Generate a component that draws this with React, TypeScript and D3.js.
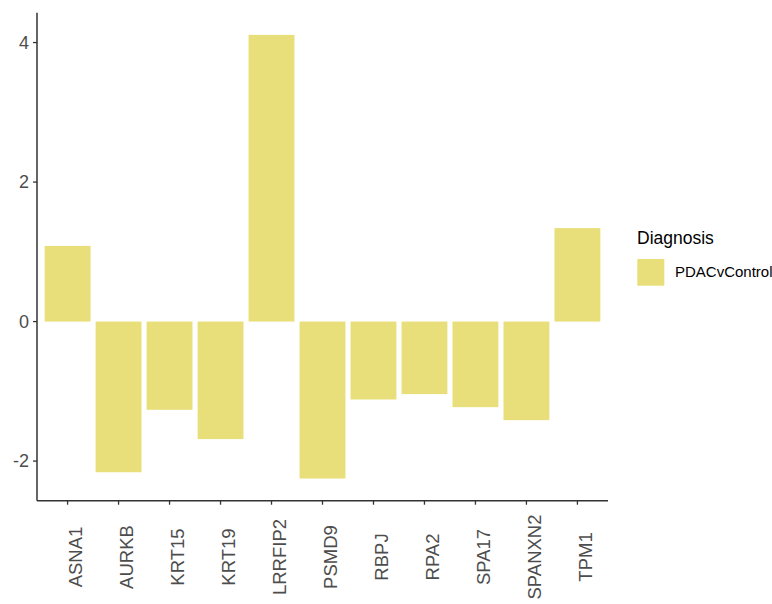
import React from "react";
import * as d3 from "d3";

// Log fold change per gene for the PDAC vs control comparison
const genes = ["ASNA1", "AURKB", "KRT15", "KRT19", "LRRFIP2", "PSMD9", "RBPJ", "RPA2", "SPA17", "SPANXN2", "TPM1"];
const values = [1.085, -2.16, -1.265, -1.685, 4.11, -2.25, -1.117, -1.04, -1.227, -1.413, 1.34];
const yTicks = [-2, 0, 2, 4];
const legendTitle = "Diagnosis";
const legendLabel = "PDACvControl";

const W = 772;
const H = 604;
const margin = { left: 37, right: 164, top: 12.7, bottom: 103.3 };
const fill = "#E9DF7A";
const axisColor = "#333333";
const textColor = "#4D4D4D";
const font = "'Liberation Sans', Arial, sans-serif";

export default function App() {
  const x0 = margin.left;
  const x1 = W - margin.right;
  const y0 = margin.top;
  const y1 = H - margin.bottom;

  // Discrete axis with ggplot-style 0.6 unit expansion on each side
  const n = genes.length;
  const unit = (x1 - x0) / (n + 0.2);
  const x = d3.scaleBand<string>()
    .domain(genes)
    .range([x0 + 0.1 * unit, x1 - 0.1 * unit])
    .paddingInner(0.1)
    .paddingOuter(0.05);

  const lo = d3.min(values)!;
  const hi = d3.max(values)!;
  const pad = (hi - lo) * 0.05;
  const y = d3.scaleLinear().domain([lo - pad, hi + pad]).range([y1, y0]);

  return (
    <svg width={W} height={H} style={{ position: "absolute", left: 0, top: 0, background: "#fff" }}>
      {genes.map((g, i) => {
        const v = values[i];
        const top = y(Math.max(0, v));
        const bot = y(Math.min(0, v));
        return <rect key={g} x={x(g)} y={top} width={x.bandwidth()} height={bot - top} fill={fill} />;
      })}

      {/* axes */}
      <line x1={x0} x2={x0} y1={y0} y2={y1} stroke={axisColor} strokeWidth={1.5} />
      <line x1={x0} x2={x1} y1={y1} y2={y1} stroke={axisColor} strokeWidth={1.5} />

      {yTicks.map((t) => (
        <g key={t}>
          <line x1={x0 - 4} x2={x0} y1={y(t)} y2={y(t)} stroke={axisColor} strokeWidth={1.3} />
          <text x={x0 - 8} y={y(t)} dy="0.35em" textAnchor="end" fontFamily={font} fontSize={18} fill={textColor}>
            {t}
          </text>
        </g>
      ))}

      {genes.map((g) => {
        const cx = x(g)! + x.bandwidth() / 2;
        return (
          <g key={g}>
            <line x1={cx} x2={cx} y1={y1} y2={y1 + 4} stroke={axisColor} strokeWidth={1.3} />
            <text
              transform={`translate(${cx + 14.5},557) rotate(-90)`}
              textAnchor="middle"
              fontFamily={font}
              fontSize={18.5}
              fill={textColor}
            >
              {g}
            </text>
          </g>
        );
      })}

      {/* legend */}
      <text x={637} y={244} fontFamily={font} fontSize={17.5} fill="#000">
        {legendTitle}
      </text>
      <rect x={637.3} y={259} width={27} height={26.7} fill={fill} />
      <text x={675} y={277} fontFamily={font} fontSize={15} fill="#000">
        {legendLabel}
      </text>
    </svg>
  );
}
